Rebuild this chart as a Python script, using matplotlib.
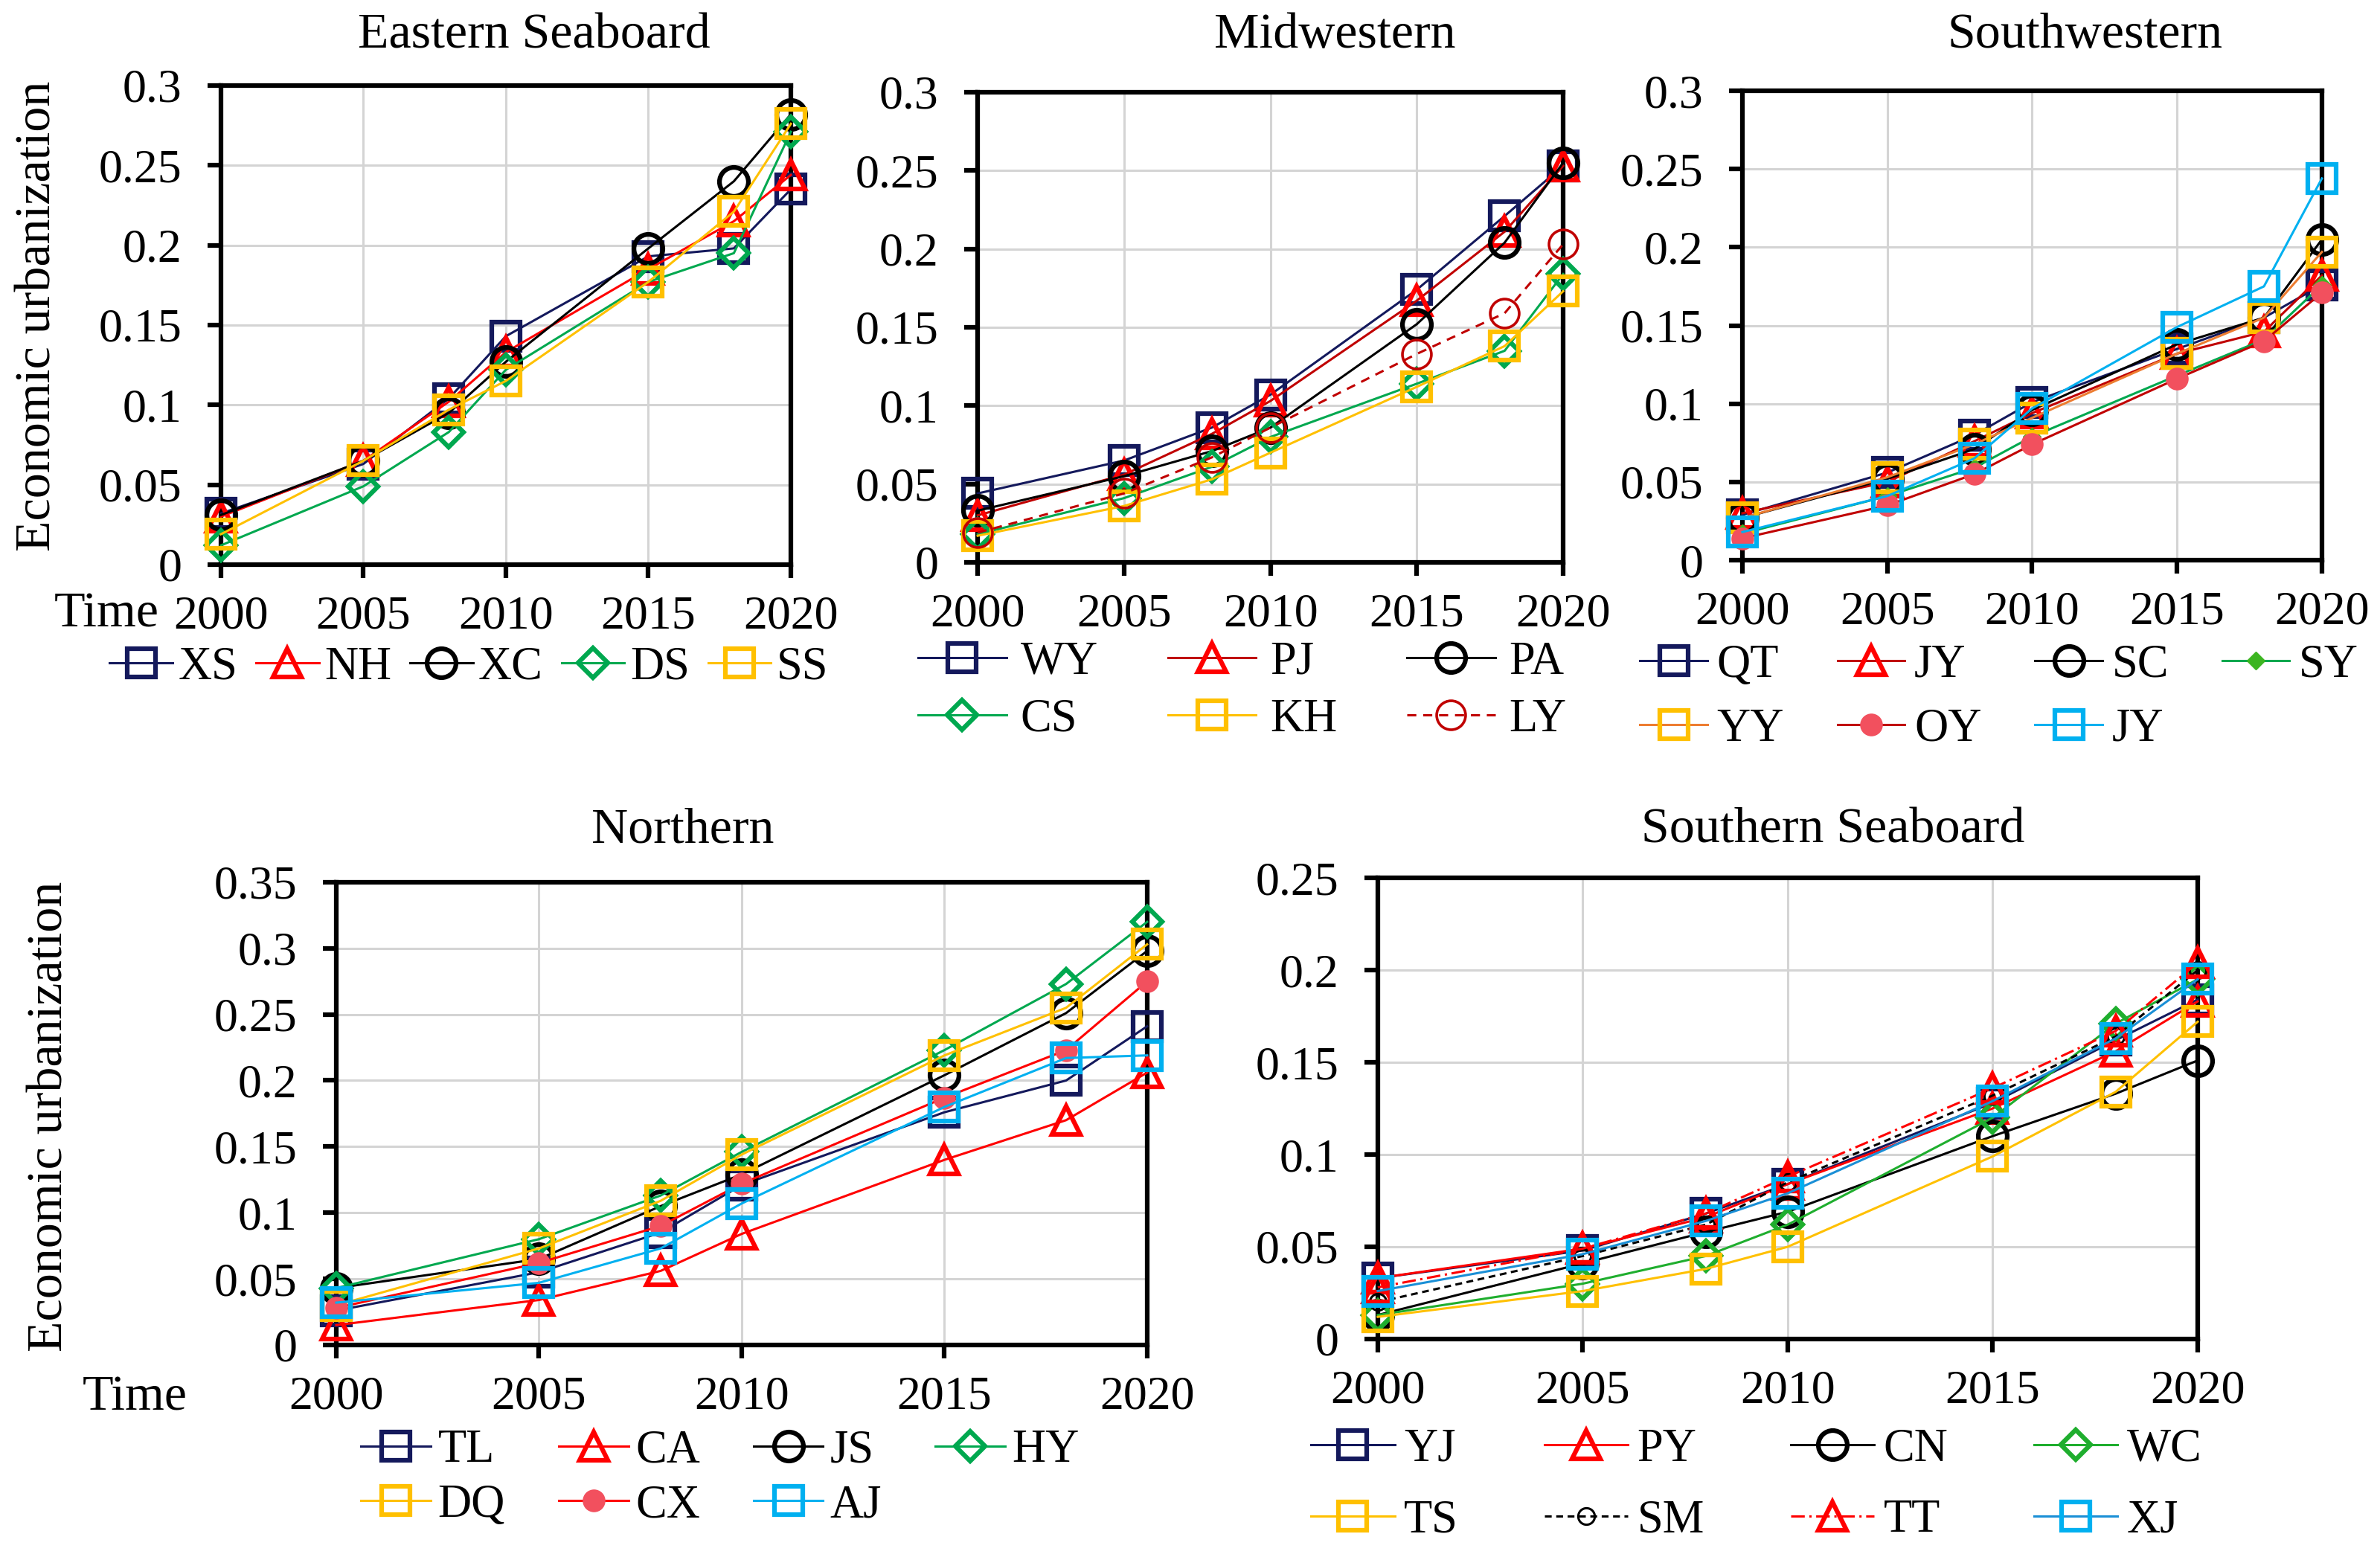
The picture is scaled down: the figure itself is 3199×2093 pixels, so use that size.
import matplotlib
matplotlib.use('Agg')
import matplotlib.pyplot as plt
from matplotlib.ticker import FuncFormatter
import numpy as np

plt.rcParams['font.family'] = ['Liberation Serif', 'DejaVu Serif']

years = [2000, 2005, 2008, 2010, 2015, 2018, 2020]
xtick_years = [2000, 2005, 2010, 2015, 2020]

# ---------------- Eastern Seaboard ----------------
east_XS = [0.032, 0.063, 0.104, 0.143, 0.193, 0.198, 0.235]
east_NH = [0.030, 0.065, 0.102, 0.133, 0.185, 0.215, 0.244]
east_XC = [0.031, 0.065, 0.095, 0.127, 0.198, 0.240, 0.282]
east_DS = [0.012, 0.049, 0.083, 0.122, 0.177, 0.195, 0.271]
east_SS = [0.019, 0.065, 0.097, 0.115, 0.177, 0.221, 0.276]

# ---------------- Midwestern ----------------
mid_WY = [0.044, 0.065, 0.086, 0.107, 0.174, 0.221, 0.253]
mid_PJ = [0.030, 0.056, 0.082, 0.103, 0.167, 0.211, 0.253]
mid_PA = [0.033, 0.055, 0.071, 0.086, 0.152, 0.204, 0.255]
mid_CS = [0.018, 0.041, 0.061, 0.080, 0.114, 0.135, 0.184]
mid_KH = [0.017, 0.036, 0.053, 0.070, 0.112, 0.138, 0.173]
mid_LY = [0.019, 0.044, 0.067, 0.086, 0.133, 0.159, 0.203]

# ---------------- Southwestern ----------------
sw_QT = [0.029, 0.056, 0.080, 0.101, 0.135, 0.155, 0.176]
sw_JY = [0.030, 0.050, 0.076, 0.094, 0.132, 0.146, 0.182]
sw_SC = [0.027, 0.052, 0.071, 0.096, 0.138, 0.155, 0.205]
sw_SY = [0.017, 0.041, 0.059, 0.079, 0.118, 0.141, 0.176]
sw_YY = [0.027, 0.053, 0.074, 0.091, 0.132, 0.155, 0.197]
sw_OY = [0.014, 0.035, 0.055, 0.074, 0.116, 0.140, 0.171]
sw_JY2 = [0.018, 0.041, 0.065, 0.097, 0.149, 0.175, 0.244]

# ---------------- Northern ----------------
no_TL = [0.026, 0.055, 0.085, 0.121, 0.176, 0.200, 0.241]
no_CA = [0.015, 0.034, 0.056, 0.084, 0.140, 0.170, 0.206]
no_JS = [0.043, 0.065, 0.105, 0.129, 0.204, 0.251, 0.298]
no_HY = [0.043, 0.080, 0.113, 0.146, 0.223, 0.273, 0.320]
no_DQ = [0.030, 0.073, 0.109, 0.144, 0.219, 0.255, 0.303]
no_CX = [0.028, 0.062, 0.090, 0.122, 0.187, 0.223, 0.275]
no_AJ = [0.032, 0.047, 0.073, 0.107, 0.180, 0.217, 0.219]

# ---------------- Southern Seaboard ----------------
so_YJ = [0.033, 0.048, 0.068, 0.084, 0.128, 0.162, 0.184]
so_PY = [0.033, 0.049, 0.066, 0.084, 0.125, 0.156, 0.183]
so_CN = [0.013, 0.041, 0.058, 0.069, 0.110, 0.133, 0.151]
so_WC = [0.013, 0.030, 0.045, 0.062, 0.120, 0.171, 0.195]
so_TS = [0.012, 0.026, 0.038, 0.050, 0.099, 0.134, 0.172]
so_SM = [0.020, 0.045, 0.062, 0.085, 0.132, 0.164, 0.200]
so_TT = [0.028, 0.049, 0.068, 0.088, 0.136, 0.167, 0.204]
so_XJ = [0.026, 0.046, 0.064, 0.079, 0.129, 0.163, 0.195]

# ---------------- styles ----------------
NAVY = '#14195c'
RED = '#ff0000'
DRED = '#c00000'
GREEN = '#00a84f'
GOLD = '#ffc000'
ORANGE = '#ed7d31'
CYAN = '#00b0f0'
PINK = '#f2505e'
BLACK = '#000000'

def sty(lc, m, mc, ls='-', filled=False, ms=28, mew=4.5, lw=2.2):
    return dict(lc=lc, m=m, mc=mc, ls=ls, filled=filled, ms=ms, mew=mew, lw=lw)

panels = [
    dict(title='Eastern Seaboard', ymax=0.3,
         series=[('XS', east_XS, sty(NAVY, 's', NAVY)),
                 ('NH', east_NH, sty(RED, '^', RED)),
                 ('XC', east_XC, sty(BLACK, 'o', BLACK)),
                 ('DS', east_DS, sty(GREEN, 'D', GREEN, ms=20)),
                 ('SS', east_SS, sty(GOLD, 's', GOLD))],
         ncol=5, order=[0, 1, 2, 3, 4],
         rect=[0.0928, 0.6374, 0.2395, 0.3077],
         leg=dict(xy=(0.197, 0.571), hl=1.35, htp=0.12, cs=0.4, ls=0.3),
         title_xy=(0.2245, 0.9694)),
    dict(title='Midwestern', ymax=0.3,
         series=[('WY', mid_WY, sty(NAVY, 's', NAVY)),
                 ('PJ', mid_PJ, sty(DRED, '^', RED)),
                 ('PA', mid_PA, sty(BLACK, 'o', BLACK)),
                 ('CS', mid_CS, sty(GREEN, 'D', GREEN, ms=20)),
                 ('KH', mid_KH, sty(GOLD, 's', GOLD)),
                 ('LY', mid_LY, sty(DRED, 'o', DRED, ls=(0, (4, 3)), mew=2.6))],
         ncol=3, order=[0, 3, 1, 4, 2, 5],
         rect=[0.4108, 0.6388, 0.2460, 0.3020],
         leg=dict(xy=(0.522, 0.556), hl=1.9, htp=0.3, cs=1.5, ls=0.3),
         title_xy=(0.561, 0.9694)),
    dict(title='Southwestern', ymax=0.3,
         series=[('QT', sw_QT, sty(NAVY, 's', NAVY)),
                 ('JY', sw_JY, sty(DRED, '^', RED)),
                 ('SC', sw_SC, sty(BLACK, 'o', BLACK)),
                 ('SY', sw_SY, sty(GREEN, 'D', '#3cb521', filled=True, ms=12, mew=1)),
                 ('YY', sw_YY, sty(ORANGE, 's', GOLD)),
                 ('OY', sw_OY, sty(DRED, 'o', PINK, filled=True, ms=22, mew=0)),
                 ('JY', sw_JY2, sty(CYAN, 's', CYAN))],
         ncol=4, order=[0, 4, 1, 5, 2, 6, 3],
         rect=[0.7321, 0.6402, 0.2435, 0.3015],
         leg=dict(xy=(0.840, 0.552), hl=1.45, htp=0.2, cs=1.15, ls=0.45),
         title_xy=(0.876, 0.9694)),
    dict(title='Northern', ymax=0.35,
         series=[('TL', no_TL, sty(NAVY, 's', NAVY)),
                 ('CA', no_CA, sty(RED, '^', RED)),
                 ('JS', no_JS, sty(BLACK, 'o', BLACK)),
                 ('HY', no_HY, sty(GREEN, 'D', GREEN, ms=20)),
                 ('DQ', no_DQ, sty(GOLD, 's', GOLD)),
                 ('CX', no_CX, sty(RED, 'o', PINK, filled=True, ms=22, mew=0)),
                 ('AJ', no_AJ, sty(CYAN, 's', CYAN))],
         ncol=4, order=[0, 4, 1, 5, 2, 6, 3],
         rect=[0.1413, 0.1362, 0.3407, 0.2972],
         leg=dict(xy=(0.3026, 0.0505), hl=1.5, htp=0.15, cs=1.15, ls=0.25),
         title_xy=(0.287, 0.4587)),
    dict(title='Southern Seaboard', ymax=0.25,
         series=[('YJ', so_YJ, sty(NAVY, 's', NAVY)),
                 ('PY', so_PY, sty(RED, '^', RED)),
                 ('CN', so_CN, sty(BLACK, 'o', BLACK)),
                 ('WC', so_WC, sty('#1fae2e', 'D', '#1fae2e', ms=20)),
                 ('TS', so_TS, sty(GOLD, 's', GOLD)),
                 ('SM', so_SM, sty(BLACK, 'o', BLACK, ls=(0, (3, 2)), ms=16, mew=2.2)),
                 ('TT', so_TT, sty(RED, '^', RED, ls=(0, (6, 2, 1, 2)))),
                 ('XJ', so_XJ, sty('#1a8fd6', 's', CYAN))],
         ncol=4, order=[0, 4, 1, 5, 2, 6, 3, 7],
         rect=[0.5789, 0.1400, 0.3445, 0.2962],
         leg=dict(xy=(0.738, 0.046), hl=1.8, htp=0.2, cs=1.85, ls=0.6),
         title_xy=(0.770, 0.4587)),
]

fig = plt.figure(figsize=(31.99, 20.93), dpi=100)

TICK_FS = 46
LEG_FS = 45
LAB_FS = 49

fmt = FuncFormatter(lambda v, p: f"{round(v, 3):g}")

for p in panels:
    ax = fig.add_axes(p['rect'])
    handles = []
    labels = []
    for name, vals, s in p['series']:
        h, = ax.plot(years, vals, color=s['lc'], lw=s['lw'], ls=s['ls'],
                     marker=s['m'], ms=s['ms'],
                     mfc=(s['mc'] if s['filled'] else 'none'),
                     mec=s['mc'], mew=s['mew'],
                     clip_on=False, zorder=3)
        handles.append(h)
        labels.append(name)
    ax.set_xlim(2000, 2020)
    ax.set_ylim(0, p['ymax'])
    ax.set_xticks(xtick_years)
    ax.set_yticks(np.arange(0, p['ymax'] + 1e-9, 0.05))
    ax.yaxis.set_major_formatter(fmt)
    ax.grid(True, color='#d4d4d4', lw=2.2)
    ax.set_axisbelow(True)
    for sp in ax.spines.values():
        sp.set_linewidth(4.5)
        sp.set_color('black')
        sp.set_zorder(2.5)
    ax.tick_params(axis='both', direction='out', length=13, width=4.5,
                   labelsize=TICK_FS, colors='black')
    ax.tick_params(axis='x', pad=17)
    ax.tick_params(axis='y', pad=25)

    order = p['order']
    lg = p['leg']
    ax.legend([handles[i] for i in order], [labels[i] for i in order],
              loc='center', bbox_to_anchor=lg['xy'], bbox_transform=fig.transFigure,
              ncol=p['ncol'], frameon=False, fontsize=LEG_FS,
              handlelength=lg['hl'], handletextpad=lg['htp'],
              columnspacing=lg['cs'], labelspacing=lg['ls'], borderpad=0.1)

    fig.text(p['title_xy'][0], p['title_xy'][1], p['title'], fontsize=LAB_FS,
             ha='center', va='baseline')

# y-axis labels and "Time" labels
fig.text(0.016, 0.797, 'Economic urbanization', rotation=90, fontsize=LAB_FS,
         ha='center', va='center')
fig.text(0.021, 0.283, 'Economic urbanization', rotation=90, fontsize=LAB_FS,
         ha='center', va='center')
fig.text(0.0447, 0.5977, 'Time', fontsize=LAB_FS, ha='center', va='baseline')
fig.text(0.0568, 0.0946, 'Time', fontsize=LAB_FS, ha='center', va='baseline')

fig.savefig('out.png', dpi=100, facecolor='white')
